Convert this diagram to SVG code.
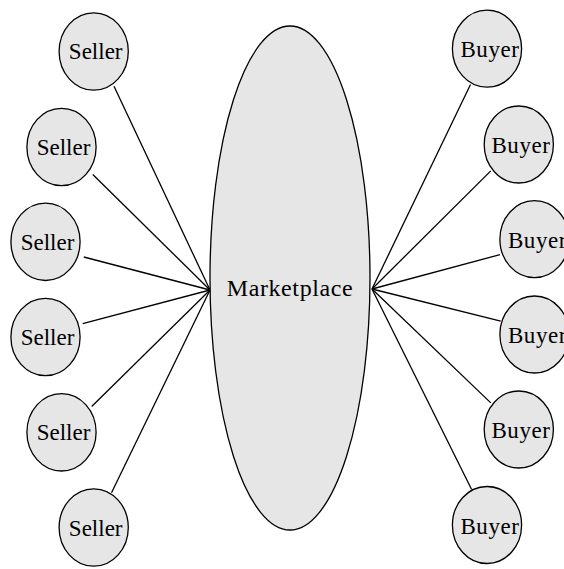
<svg xmlns="http://www.w3.org/2000/svg" width="564" height="569" viewBox="0 0 564 569">
<style>
.n{fill:#e6e6e6;stroke:#000;stroke-width:1.3}
.t{font-family:"Liberation Serif","Times New Roman",serif;font-size:23px;fill:#000;text-anchor:middle}
.b{letter-spacing:0.6px}
.c{stroke:#000;stroke-width:1.3;fill:none}
</style>
<rect width="564" height="569" fill="#fff"/>
<g id="connectors">
<line class="c" x1="114" y1="86.3" x2="210" y2="290"/>
<line class="c" x1="92.8" y1="174.5" x2="210" y2="290"/>
<line class="c" x1="83.8" y1="257" x2="210" y2="290"/>
<line class="c" x1="82.7" y1="323.7" x2="210" y2="290"/>
<line class="c" x1="91.7" y1="406.5" x2="210" y2="290"/>
<line class="c" x1="111.5" y1="492.8" x2="210" y2="290"/>
<line class="c" x1="470.5" y1="84.5" x2="372" y2="289"/>
<line class="c" x1="490.8" y1="170.9" x2="372" y2="289"/>
<line class="c" x1="500" y1="254.7" x2="372" y2="289"/>
<line class="c" x1="500.7" y1="321.2" x2="372" y2="289"/>
<line class="c" x1="490.8" y1="402.9" x2="372" y2="289"/>
<line class="c" x1="471.5" y1="489.2" x2="372" y2="289"/>
</g>
<g id="marketplace">
<ellipse class="n" cx="290" cy="278" rx="80" ry="252"/>
<text class="t" x="290" y="296" style="font-size:24px;letter-spacing:0.6px">Marketplace</text>
</g>
<g id="seller1"><ellipse class="n" cx="93.7" cy="51.5" rx="34.6" ry="38.7"/><text class="t" x="95.7" y="59.3">Seller</text></g>
<g id="seller2"><ellipse class="n" cx="61.5" cy="147" rx="34.6" ry="38.7"/><text class="t" x="63.5" y="155">Seller</text></g>
<g id="seller3"><ellipse class="n" cx="45.5" cy="241.8" rx="34.6" ry="38.7"/><text class="t" x="47.5" y="249.8">Seller</text></g>
<g id="seller4"><ellipse class="n" cx="45.5" cy="337" rx="34.6" ry="38.7"/><text class="t" x="47.5" y="345">Seller</text></g>
<g id="seller5"><ellipse class="n" cx="61.5" cy="432.3" rx="34.6" ry="38.7"/><text class="t" x="63.5" y="440.3">Seller</text></g>
<g id="seller6"><ellipse class="n" cx="93.7" cy="527.5" rx="34.6" ry="38.7"/><text class="t" x="95.7" y="535.5">Seller</text></g>
<g id="buyer1"><ellipse class="n" cx="487" cy="48.7" rx="34.6" ry="38.5"/><text class="t b" x="490" y="57.3">Buyer</text></g>
<g id="buyer2"><ellipse class="n" cx="518.8" cy="144.5" rx="34.6" ry="38.5"/><text class="t b" x="521" y="153.2">Buyer</text></g>
<g id="buyer3"><ellipse class="n" cx="534.5" cy="239.2" rx="34.6" ry="38.5"/><text class="t b" x="537.5" y="247.8">Buyer</text></g>
<g id="buyer4"><ellipse class="n" cx="534.5" cy="334.5" rx="34.6" ry="38.5"/><text class="t b" x="537.5" y="343">Buyer</text></g>
<g id="buyer5"><ellipse class="n" cx="518.8" cy="429.5" rx="34.6" ry="38.5"/><text class="t b" x="521" y="438">Buyer</text></g>
<g id="buyer6"><ellipse class="n" cx="487" cy="525" rx="34.6" ry="38.5"/><text class="t b" x="490" y="533.5">Buyer</text></g>
</svg>
